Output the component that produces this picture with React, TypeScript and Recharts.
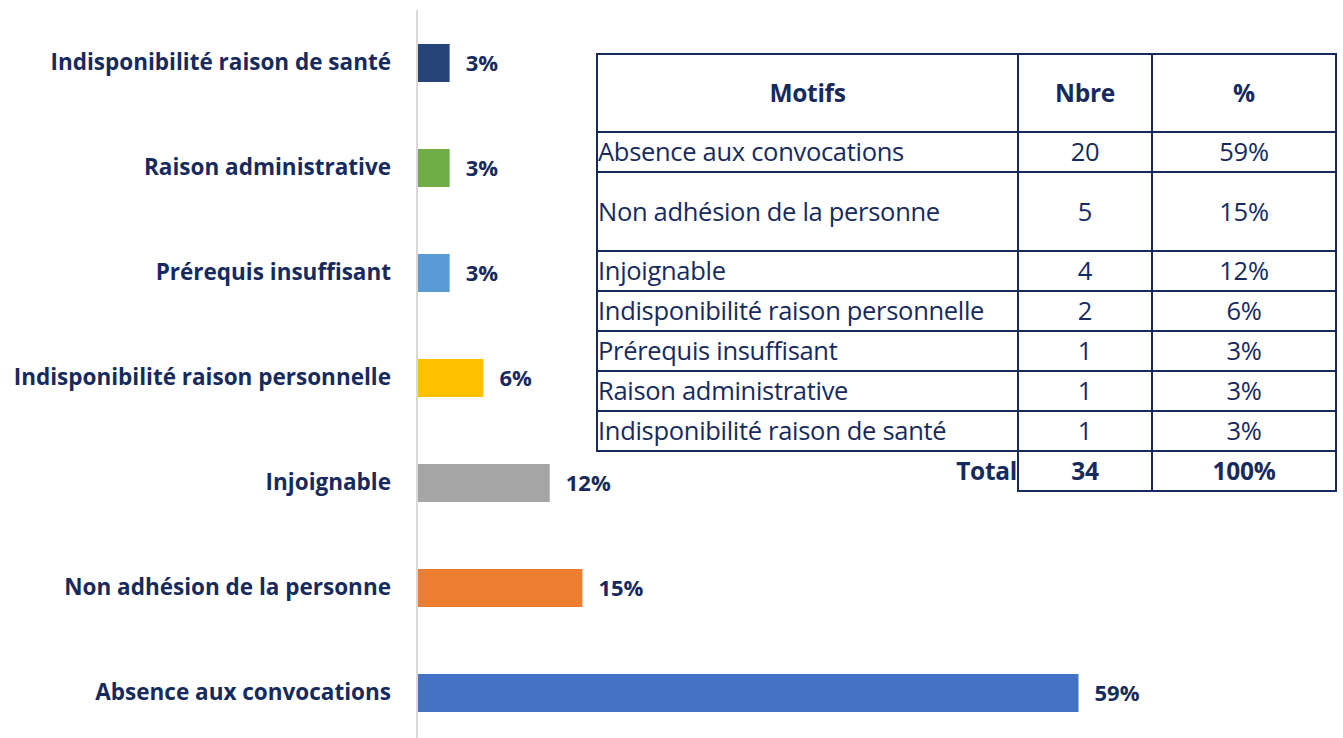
import { Bar, BarChart, Cell, LabelList, XAxis, YAxis } from "recharts";

const CATEGORIES = [
  "Indisponibilité raison de santé",
  "Raison administrative",
  "Prérequis insuffisant",
  "Indisponibilité raison personnelle",
  "Injoignable",
  "Non adhésion de la personne",
  "Absence aux convocations",
];
const SHARES = [2.9, 2.9, 2.9, 5.9, 11.8, 14.7, 58.8];
const SHARE_LABELS = ["3%", "3%", "3%", "6%", "12%", "15%", "59%"];
const BAR_COLORS = ["#264478", "#70ad47", "#5b9bd5", "#ffc000", "#a5a5a5", "#ed7d31", "#4472c4"];

const TABLE_MOTIFS = [
  "Absence aux convocations",
  "Non adhésion de la personne",
  "Injoignable",
  "Indisponibilité raison personnelle",
  "Prérequis insuffisant",
  "Raison administrative",
  "Indisponibilité raison de santé",
];
const TABLE_COUNTS = [20, 5, 4, 2, 1, 1, 1];
const TABLE_PERCENTS = ["59%", "15%", "12%", "6%", "3%", "3%", "3%"];
const TOTAL_COUNT = 34;
const TOTAL_PERCENT = "100%";

const NAVY = "#172a5e";
const FONT = "'Open Sans', Lato, sans-serif";

// row heights of the table body
const ROW_H = [40, 79, 40, 40, 40, 40, 40];

const data = CATEGORIES.map((name, i) => ({
  name,
  value: SHARES[i],
  label: SHARE_LABELS[i],
  fill: BAR_COLORS[i],
}));

function MotifsTable() {
  const cell = {
    border: `2px solid ${NAVY}`,
    padding: 0,
    color: NAVY,
    background: "#fff",
  } as const;
  return (
    <table
      style={{
        position: "absolute",
        left: 596,
        top: 53,
        borderCollapse: "collapse",
        tableLayout: "fixed",
        fontFamily: FONT,
        fontSize: 25.5,
        color: NAVY,
        lineHeight: 1,
        letterSpacing: -0.3,
      }}
    >
      <colgroup>
        <col style={{ width: 421 }} />
        <col style={{ width: 134 }} />
        <col style={{ width: 184 }} />
      </colgroup>
      <tbody>
        <tr style={{ height: 78 }}>
          <th style={{ ...cell, fontSize: 24.5 }}>Motifs</th>
          <th style={{ ...cell, fontSize: 24.5 }}>Nbre</th>
          <th style={{ ...cell, fontSize: 24.5 }}>%</th>
        </tr>
        {TABLE_MOTIFS.map((motif, i) => (
          <tr key={motif} style={{ height: ROW_H[i] }}>
            <td style={{ ...cell, textAlign: "left", whiteSpace: "nowrap" }}>{motif}</td>
            <td style={{ ...cell, textAlign: "center" }}>{TABLE_COUNTS[i]}</td>
            <td style={{ ...cell, textAlign: "center" }}>{TABLE_PERCENTS[i]}</td>
          </tr>
        ))}
        <tr style={{ height: 40 }}>
          <td
            style={{
              padding: 0,
              textAlign: "right",
              fontWeight: 700,
              fontSize: 24.5,
              border: "none",
              borderRight: `2px solid ${NAVY}`,
              background: "transparent",
            }}
          >
            Total
          </td>
          <td style={{ ...cell, textAlign: "center", fontWeight: 700, fontSize: 24.5 }}>{TOTAL_COUNT}</td>
          <td style={{ ...cell, textAlign: "center", fontWeight: 700, fontSize: 24.5 }}>{TOTAL_PERCENT}</td>
        </tr>
      </tbody>
    </table>
  );
}

export default function App() {
  return (
    <div
      style={{
        position: "fixed",
        left: 0,
        top: 0,
        width: 1343,
        height: 738,
        overflow: "hidden",
        background: "#fff",
      }}
    >
      <BarChart
        width={1343}
        height={760}
        data={data}
        layout="vertical"
        margin={{ top: 10, right: 26, bottom: 15, left: 0 }}
        barSize={38}
      >
        <XAxis type="number" domain={[0, 80]} hide />
        <YAxis
          type="category"
          dataKey="name"
          width={417}
          tickLine={false}
          tickMargin={20}
          axisLine={{ stroke: "#d9d9d9", strokeWidth: 2 }}
          tick={{ fill: NAVY, fontSize: 22.5, fontWeight: 700, fontFamily: FONT }}
          interval={0}
        />
        <Bar dataKey="value" isAnimationActive={false}>
          {data.map((d) => (
            <Cell key={d.name} fill={d.fill} />
          ))}
          <LabelList
            dataKey="label"
            position="right"
            offset={16}
            fill={NAVY}
            fontSize={22}
            fontWeight={700}
            fontFamily={FONT}
          />
        </Bar>
      </BarChart>
      <MotifsTable />
    </div>
  );
}
